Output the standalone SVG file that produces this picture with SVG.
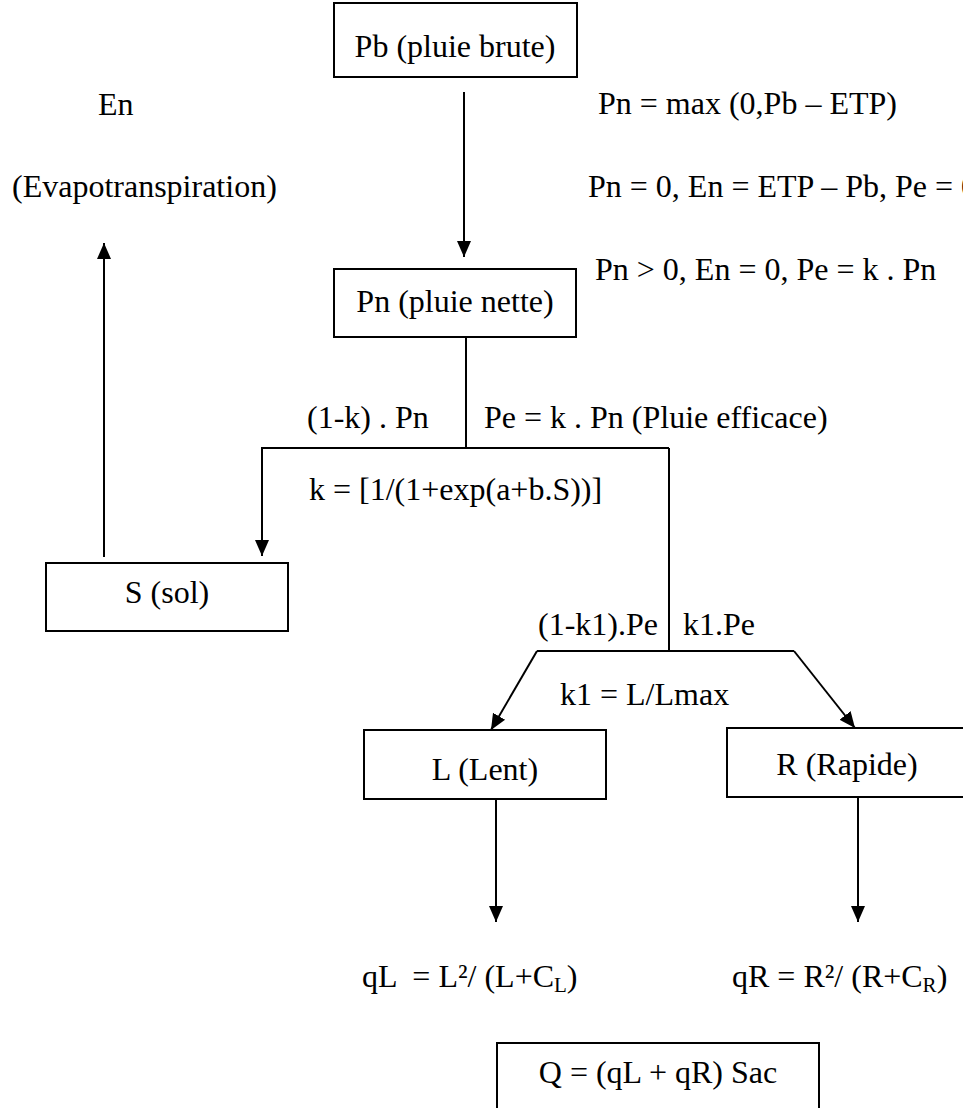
<svg xmlns="http://www.w3.org/2000/svg" width="963" height="1108" viewBox="0 0 963 1108" font-family="'Liberation Serif', 'DejaVu Serif', serif">
<defs>
<style>
text{font-size:32px;fill:#000}
.c{text-anchor:middle}
.box{fill:#fff;stroke:#000;stroke-width:2}
.ln{fill:none;stroke:#000;stroke-width:2}
</style>
<marker id="ah" viewBox="0 0 16 16" refX="16" refY="8" markerWidth="16" markerHeight="16" markerUnits="userSpaceOnUse" orient="auto">
<path d="M0,1 L16,8 L0,15 z" fill="#000"/>
</marker>
</defs>
<rect width="963" height="1108" fill="#fff"/>
<g id="connectors">
<line class="ln" x1="464" y1="92" x2="464" y2="257" marker-end="url(#ah)"/>
<line class="ln" x1="104" y1="557" x2="104" y2="243" marker-end="url(#ah)"/>
<line class="ln" x1="466" y1="337" x2="466" y2="448"/>
<polyline class="ln" points="262,448 669,448"/>
<line class="ln" x1="262" y1="447" x2="262" y2="556" marker-end="url(#ah)"/>
<line class="ln" x1="669" y1="448" x2="669" y2="651"/>
<polyline class="ln" points="537,651 794,651"/>
<line class="ln" x1="537" y1="651" x2="491" y2="730" marker-end="url(#ah)"/>
<line class="ln" x1="794" y1="651" x2="855" y2="728" marker-end="url(#ah)"/>
<line class="ln" x1="496" y1="799" x2="496" y2="922" marker-end="url(#ah)"/>
<line class="ln" x1="858" y1="797" x2="858" y2="922" marker-end="url(#ah)"/>
</g>
<g id="labels">
<text x="98" y="115">En</text>
<text x="12" y="197">(Evapotranspiration)</text>
<text x="598" y="114">Pn = max (0,Pb – ETP)</text>
<text x="588" y="197">Pn = 0, En = ETP – Pb, Pe = 0</text>
<text x="595" y="280">Pn &gt; 0, En = 0, Pe = k . Pn</text>
<text x="307" y="428">(1-k) . Pn</text>
<text x="484" y="428">Pe = k . Pn (Pluie efficace)</text>
<text x="309" y="500">k = [1/(1+exp(a+b.S))]</text>
<text x="538" y="635">(1-k1).Pe</text>
<text x="683" y="635">k1.Pe</text>
<text x="560" y="705">k1 = L/Lmax</text>
<text x="362" y="987" xml:space="preserve">qL  = L²/ (L+C<tspan font-size="21" dy="5">L</tspan><tspan dy="-5">)</tspan></text>
<text x="732" y="987">qR = R²/ (R+C<tspan font-size="21" dy="5">R</tspan><tspan dy="-5">)</tspan></text>
</g>
<g id="node-pb">
<rect class="box" x="334" y="3" width="243" height="74"/>
<text class="c" x="455" y="57">Pb (pluie brute)</text>
</g>
<g id="node-pn">
<rect class="box" x="334" y="269" width="242" height="68"/>
<text class="c" x="455" y="312">Pn (pluie nette)</text>
</g>
<g id="node-s">
<rect class="box" x="46" y="563" width="242" height="68"/>
<text class="c" x="167" y="603">S (sol)</text>
</g>
<g id="node-l">
<rect class="box" x="364" y="730" width="242" height="69"/>
<text class="c" x="485" y="780">L (Lent)</text>
</g>
<g id="node-r">
<rect class="box" x="727" y="728" width="245" height="69"/>
<text class="c" x="847" y="775">R (Rapide)</text>
</g>
<g id="node-q">
<rect class="box" x="497" y="1043" width="322" height="90"/>
<text class="c" x="658" y="1083">Q = (qL + qR) Sac</text>
</g>
</svg>
